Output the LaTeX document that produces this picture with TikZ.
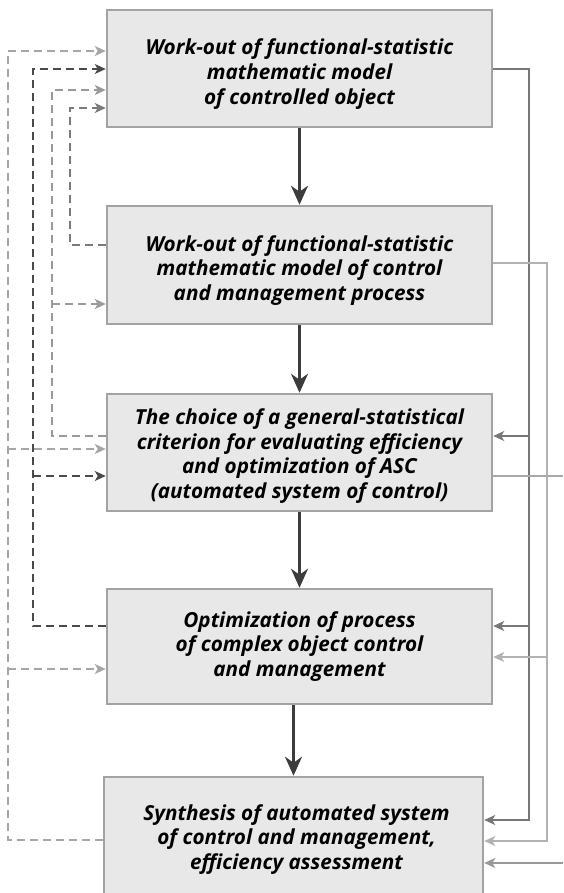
\documentclass[tikz,border=0pt]{standalone}
\usepackage{fontspec}
\setmainfont{Open Sans}
\usetikzlibrary{arrows.meta}
\definecolor{boxfill}{HTML}{E8E8E8}
\definecolor{boxline}{HTML}{A3A3A3}
\definecolor{mainarrow}{HTML}{3C3C3C}
\definecolor{cA}{HTML}{A6A6A6}
\definecolor{cB}{HTML}{4A4A4A}
\definecolor{cC}{HTML}{9A9A9A}
\definecolor{cD}{HTML}{7A7A7A}
\definecolor{cE}{HTML}{777777}
\definecolor{cF}{HTML}{B2B2B2}
\definecolor{cG}{HTML}{A8A8A8}
\definecolor{cH}{HTML}{999999}
\tikzset{
  stagebox/.style={draw=boxline, fill=boxfill, line width=2.5pt, minimum width=385pt,
    minimum height=117pt, inner sep=0pt},
  stagetext/.style={align=center, inner sep=0pt,
    font=\fontsize{20.7}{24.8}\selectfont\bfseries\itshape},
  flowarrow/.style={draw=mainarrow, line width=2.6pt, -{Stealth[length=19pt,width=17pt,inset=6pt]}},
  fb/.style={line width=1.4pt, dash pattern=on 8pt off 5pt},
  fbtip/.style={-{Stealth[length=11pt,width=10pt,inset=3pt]}},
  solidfb/.style={line width=1.4pt},
}
\begin{document}
\begin{tikzpicture}[x=1pt,y=-1pt]
\useasboundingbox (0,0) rectangle (563,893);
% boxes
\node[stagebox] (b1) at (299.5,68.5) {};
\node[stagebox, minimum height=118pt] (b2) at (299.5,265) {};
\node[stagebox] (b3) at (299.5,452.5) {};
\node[stagebox, minimum height=115pt] (b4) at (299.5,646.5) {};
\node[stagebox, minimum width=379pt, minimum height=122pt] (b5) at (293.5,838) {};
% texts
\node[stagetext] (t1) at ([yshift=-5.5pt]b1.center) {Work-out of functional-statistic\\mathematic model\\of controlled object};
\node[stagetext] (t2) at ([yshift=-5.5pt]b2.center) {Work-out of functional-statistic\\mathematic model of control\\and management process};
\node[stagetext] (t3) at ([yshift=-3.5pt]b3.center) {The choice of a general-statistical\\criterion for evaluating efficiency\\and optimization of ASC\\(automated system of control)};
\node[stagetext] (t4) at ([yshift=0pt]b4.center) {Optimization of process\\of complex object control\\and management};
\node[stagetext] (t5) at ([xshift=3pt,yshift=-1.5pt]b5.center) {Synthesis of automated system\\of control and management,\\efficiency assessment};
% main flow
\draw[flowarrow] (b1.south) -- (b2.north);
\draw[flowarrow] (b2.south) -- (b3.north);
\draw[flowarrow] (b3.south) -- (b4.north);
\draw[flowarrow] (b4.south -| b5.north) -- (b5.north);
% left feedback coordinates
\coordinate (a1) at (8,840);  \coordinate (a2) at (8,51);
\coordinate (a3) at (8,449);  \coordinate (a4) at (8,669);
\coordinate (bb1) at (33,626); \coordinate (bb2) at (33,69); \coordinate (bb3) at (33,476);
\coordinate (c1) at (52,436); \coordinate (c2) at (52,90); \coordinate (c3) at (52,304);
\coordinate (d1) at (70,245); \coordinate (d2) at (70,108);
% line A
\draw[fb, cA, fbtip] (b5.west |- a1) -- (a1) -- (a2) -- (b1.west |- a2);
\draw[fb, cA, fbtip] (a3) -- (b3.west |- a3);
\draw[fb, cA, fbtip] (a4) -- (b4.west |- a4);
% line B
\draw[fb, cB, fbtip] (b4.west |- bb1) -- (bb1) -- (bb2) -- (b1.west |- bb2);
\draw[fb, cB, fbtip] (bb3) -- (b3.west |- bb3);
% line C
\draw[fb, cC, fbtip] (b3.west |- c1) -- (c1) -- (c2) -- (b1.west |- c2);
\draw[fb, cC, fbtip] (c3) -- (b2.west |- c3);
% line D
\draw[fb, cD, fbtip] (b2.west |- d1) -- (d1) -- (d2) -- (b1.west |- d2);
% right coordinates
\coordinate (e1) at (529,69); \coordinate (e2) at (529,820);
\coordinate (e3) at (529,436); \coordinate (e4) at (529,626);
\coordinate (f1) at (547,263); \coordinate (f2) at (547,841); \coordinate (f3) at (547,657);
\coordinate (g1) at (563,476);
\coordinate (h1) at (563,863);
% line E
\draw[solidfb, cE, fbtip] (b1.east |- e1) -- (e1) -- (e2) -- (b5.east |- e2);
\draw[solidfb, cE, fbtip] (e3) -- (b3.east |- e3);
\draw[solidfb, cE, fbtip] (e4) -- (b4.east |- e4);
% line F
\draw[solidfb, cF, fbtip] (b2.east |- f1) -- (f1) -- (f2) -- (b5.east |- f2);
\draw[solidfb, cF, fbtip] (f3) -- (b4.east |- f3);
% line G
\draw[solidfb, cG] (b3.east |- g1) -- (g1);
% line H
\draw[solidfb, cH, fbtip] (h1) -- (b5.east |- h1);
\end{tikzpicture}
\end{document}
